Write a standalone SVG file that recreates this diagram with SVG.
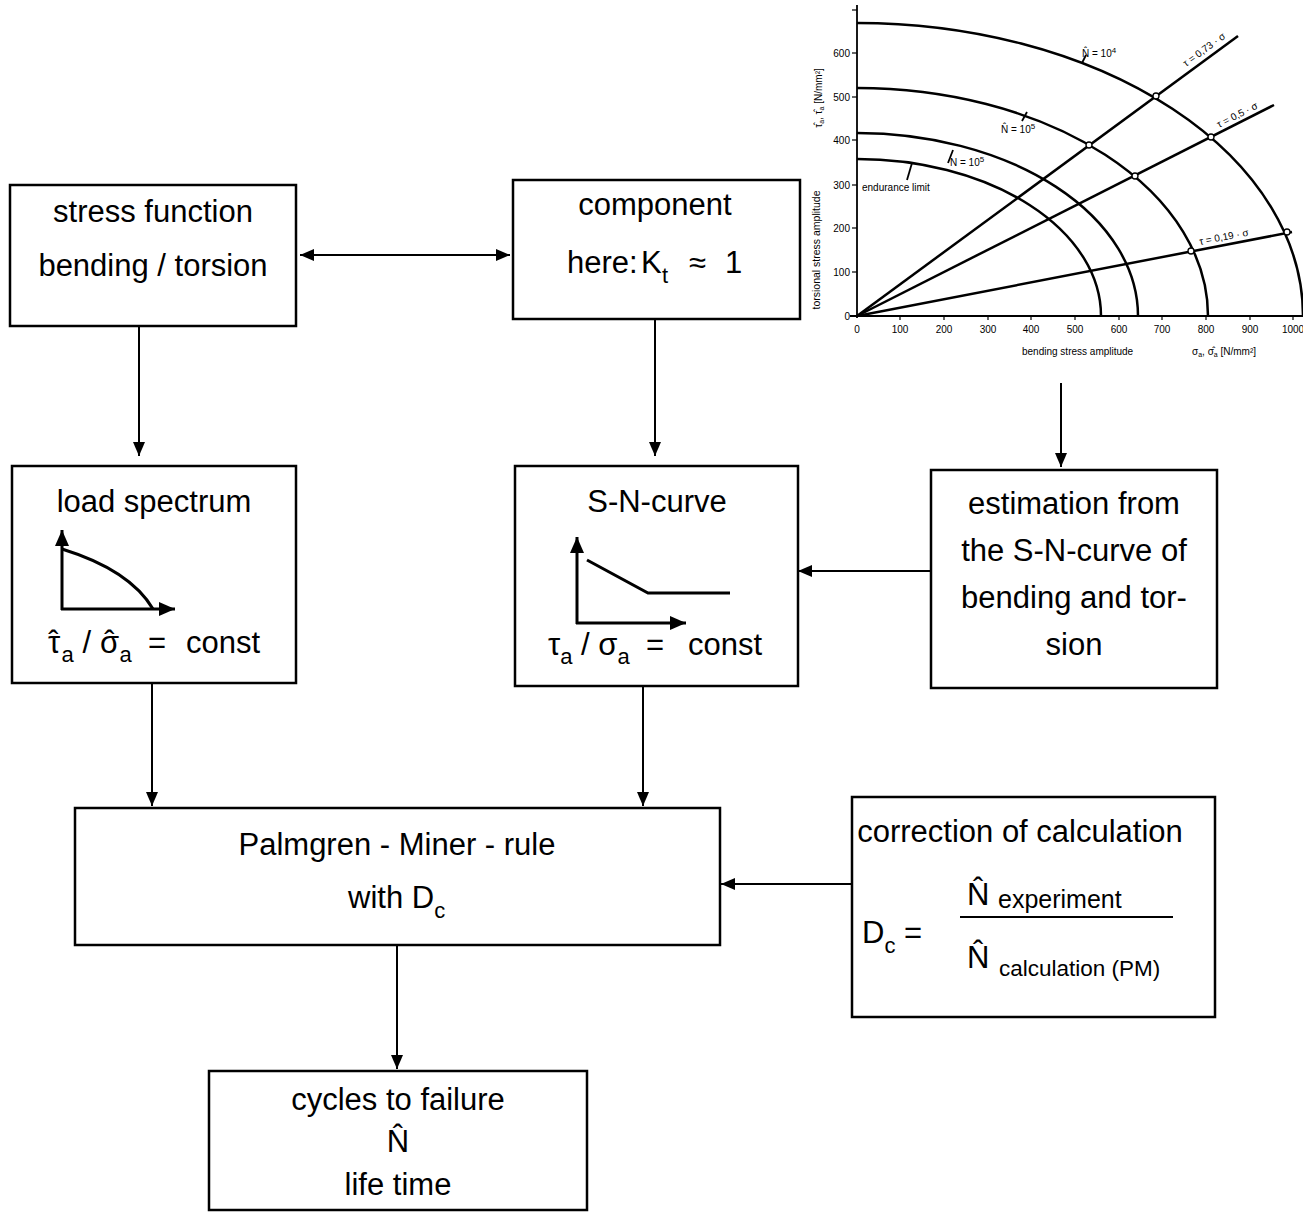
<svg xmlns="http://www.w3.org/2000/svg" width="1303" height="1212" viewBox="0 0 1303 1212">
<style>
.box{fill:#fff;stroke:#000;stroke-width:2.5}
.t{font-family:"Liberation Sans",Arial,sans-serif;font-size:31px;fill:#000}
.m{text-anchor:middle}
.sub{font-size:22px}
.conn line{stroke:#000;stroke-width:2}
.ax{stroke:#000;stroke-width:3;fill:none}
.cv{stroke:#000;stroke-width:2.5;fill:none}
.ch{font-family:"Liberation Sans",Arial,sans-serif;font-size:10px;fill:#000}
.cl{stroke:#000;stroke-width:1.8;fill:none}
.pt{stroke:#000;stroke-width:1.3;fill:#fff}
</style>
<defs>
<marker id="ah" viewBox="0 0 14 12" refX="14" refY="6" markerWidth="14" markerHeight="12" markerUnits="userSpaceOnUse" orient="auto-start-reverse">
<path d="M0,0 L14,6 L0,12 z" fill="#000"/>
</marker>
<marker id="bh" viewBox="0 0 16 14" refX="16" refY="7" markerWidth="16" markerHeight="14" markerUnits="userSpaceOnUse" orient="auto">
<path d="M0,0 L16,7 L0,14 z" fill="#000"/>
</marker>
</defs>

<g id="chart">
<line class="cl" x1="857" y1="5" x2="857" y2="318"/>
<line class="cl" x1="850" y1="316" x2="1303" y2="316" stroke-width="2.2"/>
<g stroke="#000" stroke-width="1.2">
<line x1="852" y1="272" x2="857" y2="272"/><line x1="852" y1="228" x2="857" y2="228"/><line x1="852" y1="185" x2="857" y2="185"/><line x1="852" y1="140" x2="857" y2="140"/><line x1="852" y1="97" x2="857" y2="97"/><line x1="852" y1="53" x2="857" y2="53"/><line x1="852" y1="10" x2="857" y2="10"/>
<line x1="900" y1="316" x2="900" y2="320"/><line x1="944" y1="316" x2="944" y2="320"/><line x1="988" y1="316" x2="988" y2="320"/><line x1="1031" y1="316" x2="1031" y2="320"/><line x1="1075" y1="316" x2="1075" y2="320"/><line x1="1119" y1="316" x2="1119" y2="320"/><line x1="1162" y1="316" x2="1162" y2="320"/><line x1="1206" y1="316" x2="1206" y2="320"/><line x1="1250" y1="316" x2="1250" y2="320"/><line x1="1293" y1="316" x2="1293" y2="320"/>
</g>
<g class="ch" text-anchor="end">
<text x="850" y="320">0</text><text x="850" y="276">100</text><text x="850" y="232">200</text><text x="850" y="189">300</text><text x="850" y="144">400</text><text x="850" y="101">500</text><text x="850" y="57">600</text>
</g>
<g class="ch" text-anchor="middle">
<text x="857" y="333">0</text><text x="900" y="333">100</text><text x="944" y="333">200</text><text x="988" y="333">300</text><text x="1031" y="333">400</text><text x="1075" y="333">500</text><text x="1119" y="333">600</text><text x="1162" y="333">700</text><text x="1206" y="333">800</text><text x="1250" y="333">900</text><text x="1293" y="333">1000</text>
</g>
<text class="ch" style="font-size:10.5px" text-anchor="middle" transform="translate(820,250) rotate(-90)">torsional stress amplitude</text>
<text class="ch" text-anchor="middle" transform="translate(822,98) rotate(-90)">τ̂<tspan font-size="7" dy="2">a</tspan><tspan dy="-2">, τ̂</tspan><tspan font-size="7" dy="2">a</tspan><tspan dy="-2"> [N/mm²]</tspan></text>
<text class="ch" x="1022" y="355">bending stress amplitude</text>
<text class="ch" x="1192" y="355">σ<tspan font-size="7" dy="2">a</tspan><tspan dy="-2">, σ̂</tspan><tspan font-size="7" dy="2">a</tspan><tspan dy="-2"> [N/mm²]</tspan></text>

<path class="cv" d="M857,23 A446,293 0 0 1 1303,316"/>
<path class="cv" d="M857,88 A351,228 0 0 1 1208,316"/>
<path class="cv" d="M857,133 A281,183 0 0 1 1138,316"/>
<path class="cv" d="M857,159 A244,157 0 0 1 1101,316"/>

<line class="cv" x1="857" y1="316" x2="1238" y2="36"/>
<line class="cv" x1="857" y1="316" x2="1274" y2="105"/>
<line class="cv" x1="857" y1="316" x2="1292" y2="232"/>

<circle class="pt" cx="1156" cy="96" r="3"/>
<circle class="pt" cx="1089" cy="145" r="3"/>
<circle class="pt" cx="1211" cy="137" r="3"/>
<circle class="pt" cx="1135" cy="176" r="3"/>
<circle class="pt" cx="1191" cy="251" r="3"/>
<circle class="pt" cx="1287" cy="232" r="3"/>

<text class="ch" transform="translate(1186,67) rotate(-36.3)">τ = 0,73 · σ</text>
<text class="ch" transform="translate(1219,128) rotate(-26.8)">τ = 0,5 · σ</text>
<text class="ch" transform="translate(1200,245) rotate(-10.9)">τ = 0,19 · σ</text>

<line class="cl" x1="1082" y1="63" x2="1086" y2="55" stroke-width="1.2"/>
<text class="ch" x="1082" y="57">N̂ = 10<tspan font-size="8" dy="-4">4</tspan></text>
<line class="cl" x1="1022" y1="121" x2="1027" y2="112" stroke-width="1.2"/>
<text class="ch" x="1001" y="133">N̂ = 10<tspan font-size="8" dy="-4">5</tspan></text>
<line class="cl" x1="948" y1="163" x2="953" y2="150" stroke-width="1.2"/>
<text class="ch" x="950" y="166">N = 10<tspan font-size="8" dy="-4">5</tspan></text>
<line class="cl" x1="907" y1="180" x2="912" y2="163" stroke-width="1.2"/>
<text class="ch" x="862" y="191">endurance limit</text>
</g>

<g id="stress-function">
<rect class="box" x="10" y="185" width="286" height="141"/>
<text class="t m" x="153" y="222">stress function</text>
<text class="t m" x="153" y="276">bending / torsion</text>
</g>

<g id="component">
<rect class="box" x="513" y="180" width="287" height="139"/>
<text class="t m" x="655" y="215">component</text>
<text class="t" x="567" y="273">here:<tspan x="641">K</tspan><tspan class="sub" x="662" dy="10">t</tspan><tspan x="689" dy="-10">≈</tspan><tspan x="725">1</tspan></text>
</g>

<g id="load-spectrum">
<rect class="box" x="12" y="466" width="284" height="217"/>
<text class="t m" x="154" y="512">load spectrum</text>
<line class="ax" x1="62" y1="610" x2="62" y2="530" marker-end="url(#bh)"/>
<line class="ax" x1="61" y1="609" x2="175" y2="609" marker-end="url(#bh)"/>
<path class="ax" d="M62,549 Q130,570 153,609"/>
<text class="t" x="48" y="653">τ<tspan dx="-12">ˆ</tspan><tspan class="sub" dx="3" dy="9">a</tspan><tspan dy="-9"> /</tspan></text>
<text class="t" x="100" y="653">σ<tspan dx="-15">ˆ</tspan><tspan class="sub" dx="5" dy="9">a</tspan><tspan x="148" dy="-9">=</tspan><tspan x="186">const</tspan></text>
</g>

<g id="sn-curve">
<rect class="box" x="515" y="466" width="283" height="220"/>
<text class="t m" x="657" y="512">S-N-curve</text>
<line class="ax" x1="577" y1="624" x2="577" y2="537" marker-end="url(#bh)"/>
<line class="ax" x1="576" y1="623" x2="686" y2="623" marker-end="url(#bh)"/>
<path class="ax" d="M587,560 L648,593 L730,593"/>
<text class="t" x="548" y="655">τ<tspan class="sub" dy="9">a</tspan><tspan dy="-9"> / σ</tspan><tspan class="sub" dy="9">a</tspan><tspan x="646" dy="-9">=</tspan><tspan x="688">const</tspan></text>
</g>

<g id="estimation">
<rect class="box" x="931" y="470" width="286" height="218"/>
<text class="t m" x="1074" y="514">estimation from</text>
<text class="t m" x="1074" y="561">the S-N-curve of</text>
<text class="t m" x="1074" y="608">bending and tor-</text>
<text class="t m" x="1074" y="655">sion</text>
</g>

<g id="palmgren-miner">
<rect class="box" x="75" y="808" width="645" height="137"/>
<text class="t m" x="397" y="855">Palmgren - Miner - rule</text>
<text class="t" x="348" y="908">with D<tspan class="sub" dy="10">c</tspan></text>
</g>

<g id="correction">
<rect class="box" x="852" y="797" width="363" height="220"/>
<text class="t m" x="1020" y="842">correction of calculation</text>
<text class="t" x="862" y="943">D<tspan class="sub" dy="10">c</tspan><tspan dy="-10"> =</tspan></text>
<line x1="960" y1="917" x2="1173" y2="917" stroke="#000" stroke-width="2"/>
<text class="t" x="967" y="905">N̂</text>
<text class="t" x="998" y="908" style="font-size:25px">experiment</text>
<text class="t" x="967" y="968">N̂</text>
<text class="t" x="999" y="976" style="font-size:22.5px">calculation (PM)</text>
</g>

<g id="cycles-to-failure">
<rect class="box" x="209" y="1071" width="378" height="139"/>
<text class="t m" x="398" y="1110">cycles to failure</text>
<text class="t m" x="398" y="1152">N̂</text>
<text class="t m" x="398" y="1195">life time</text>
</g>

<g id="connectors" class="conn">
<line x1="300" y1="255" x2="510" y2="255" marker-start="url(#ah)" marker-end="url(#ah)"/>
<line x1="139" y1="326" x2="139" y2="456" marker-end="url(#ah)"/>
<line x1="655" y1="319" x2="655" y2="456" marker-end="url(#ah)"/>
<line x1="1061" y1="383" x2="1061" y2="467" marker-end="url(#ah)"/>
<line x1="931" y1="571" x2="798" y2="571" marker-end="url(#ah)"/>
<line x1="152" y1="683" x2="152" y2="806" marker-end="url(#ah)"/>
<line x1="643" y1="686" x2="643" y2="806" marker-end="url(#ah)"/>
<line x1="852" y1="884" x2="721" y2="884" marker-end="url(#ah)"/>
<line x1="397" y1="945" x2="397" y2="1069" marker-end="url(#ah)"/>
</g>
</svg>
